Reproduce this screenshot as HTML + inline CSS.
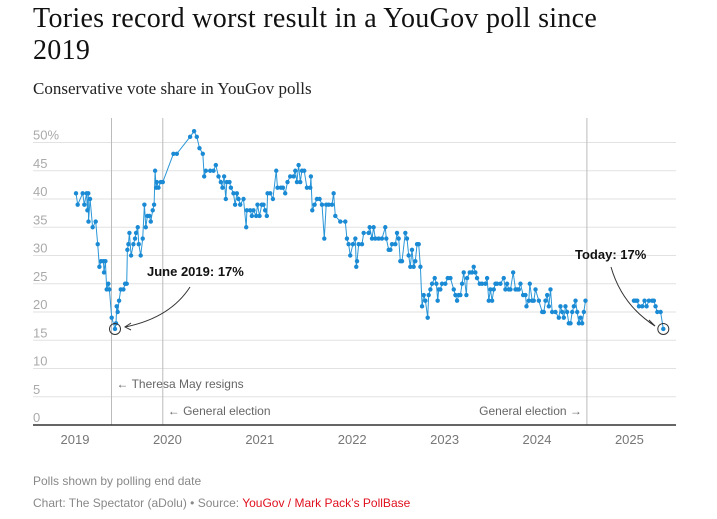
<!DOCTYPE html>
<html><head><meta charset="utf-8"><style>
body{margin:0;background:#fff;width:717px;height:519px;overflow:hidden;font-family:"Liberation Sans",sans-serif}
h1{position:absolute;left:33px;top:3px;margin:0;font-family:"Liberation Serif",serif;font-weight:normal;font-size:28px;line-height:32px;color:#111;letter-spacing:0.3px;white-space:nowrap}
.sub{position:absolute;left:33px;top:79px;font-family:"Liberation Serif",serif;font-size:17px;color:#222}
.foot{position:absolute;left:33px;font-size:12px;color:#888}
svg{position:absolute;left:0;top:0}
</style></head><body>
<h1>Tories record worst result in a YouGov poll since<br>2019</h1>
<div class="sub">Conservative vote share in YouGov polls</div>
<div class="foot" style="top:474px">Polls shown by polling end date</div>
<div class="foot" style="top:496px">Chart: The Spectator (aDolu) • Source: <span style="color:#e0101e">YouGov / Mark Pack’s PollBase</span></div>
<svg id="c" width="717" height="519"></svg>
<script>
const yTicks=[0,5,10,15,20,25,30,35,40,45,50];
const xYears=[2019,2020,2021,2022,2023,2024,2025];
const dates=[2019.011,2019.029,2019.083,2019.101,2019.126,2019.134,2019.144,2019.146,2019.163,2019.191,
2019.224,2019.246,2019.264,2019.282,2019.307,2019.314,2019.329,2019.343,2019.361,2019.372,
2019.397,2019.433,2019.444,2019.451,2019.462,2019.477,2019.495,2019.524,2019.542,2019.560,
2019.567,2019.578,2019.589,2019.607,2019.632,2019.650,2019.661,2019.679,2019.690,2019.711,
2019.733,2019.751,2019.766,2019.784,2019.805,2019.820,2019.841,2019.856,2019.867,2019.878,
2019.885,2019.903,2019.928,2019.950,2020.065,2020.102,2020.246,2020.289,2020.318,2020.347,
2020.383,2020.398,2020.416,2020.463,2020.499,2020.524,2020.553,2020.578,2020.596,2020.614,
2020.632,2020.643,2020.672,2020.687,2020.715,2020.733,2020.752,2020.770,2020.788,2020.824,
2020.853,2020.860,2020.896,2020.914,2020.932,2020.961,2020.975,2020.997,2021.022,2021.040,
2021.058,2021.076,
2021.084,2021.113,2021.142,2021.178,2021.192,2021.228,2021.250,2021.275,2021.300,2021.329,
2021.366,2021.384,2021.402,2021.420,2021.438,2021.456,2021.481,2021.510,2021.546,2021.553,
2021.568,2021.593,2021.618,2021.647,2021.673,2021.698,2021.719,2021.745,2021.781,2021.799,2021.817,
2021.871,2021.925,2021.943,2021.961,2021.979,2022.008,2022.034,2022.044,2022.052,2022.070,
2022.106,2022.124,2022.178,2022.189,2022.214,2022.232,2022.250,2022.286,2022.322,2022.358,
2022.369,2022.395,2022.413,2022.431,2022.467,2022.485,2022.503,2022.521,2022.539,2022.575,
2022.593,2022.611,2022.629,2022.647,2022.665,2022.683,2022.702,2022.720,2022.738,2022.756,
2022.774,2022.792,2022.817,2022.828,2022.846,2022.864,2022.893,2022.911,2022.925,2022.936,
2022.954,2022.972,2023.008,2023.034,2023.063,2023.099,2023.117,2023.135,2023.153,2023.171,
2023.189,2023.207,2023.236,2023.243,2023.272,2023.297,2023.315,2023.333,2023.351,2023.380,
2023.406,2023.442,2023.460,2023.478,2023.496,2023.514,2023.532,2023.550,2023.568,2023.604,
2023.640,2023.658,2023.676,2023.695,2023.713,2023.742,2023.767,2023.785,2023.803,2023.821,
2023.850,2023.875,2023.886,2023.911,2023.922,2023.948,2023.965,2023.984,2024.020,2024.056,
2024.074,2024.092,2024.110,2024.128,2024.146,2024.164,2024.200,2024.236,2024.254,2024.272,
2024.290,2024.308,2024.326,2024.344,2024.363,2024.381,2024.399,2024.417,2024.435,2024.453,
2024.471,2024.489,2024.507,2024.525,
2025.049,2025.067,2025.085,2025.103,2025.139,2025.164,2025.186,2025.211,2025.247,2025.265,2025.283,2025.302,2025.338,2025.367];
const values=[41,39,41,39,41,38,41,36,40,35,
36,32,28,29,29,27,29,24,25,24,
19,17,18,21,20,22,24,24,25,25,
31,32,34,30,32,33,34,35,32,30,
33,39,35,37,37,36,38,39,45,42,
43,42,43,43,48,48,51,52,51,49,
48,44,45,45,45,46,44,43,42,44,
40,43,43,42,41,39,41,40,39,40,
35,38,38,37,38,37,39,37,39,39,
38,37,
41,41,40,45,42,42,42,41,43,44,
44,45,43,46,43,45,45,42,42,44,
38,39,40,40,39,33,39,39,39,41,37,
36,36,33,32,30,32,33,28,29,32,
32,34,34,35,33,35,33,33,33,35,
33,31,31,32,32,34,33,29,29,34,
33,30,28,31,28,29,32,32,28,21,
23,22,19,23,24,25,26,25,22,24,
24,25,25,26,26,24,23,22,23,23,
25,27,23,26,27,27,28,27,26,25,
25,25,26,22,24,22,24,25,25,25,
26,24,25,24,24,27,24,24,24,25,
23,23,21,22,25,22,22,24,22,20,
20,22,23,21,24,20,20,19,21,20,
19,21,20,18,18,20,21,22,20,18,
19,18,20,22,
22,22,22,21,21,22,21,22,22,22,21,20,20,17];
const S='http://www.w3.org/2000/svg',svg=document.getElementById('c');
const X0=33,X1=676,Y0=425;
const x=d=>75+(d-2019)*92.4, y=v=>Y0-5.65*v;
function mk(t,a,p){const e=document.createElementNS(S,t);for(const k in a)e.setAttribute(k,a[k]);(p||svg).appendChild(e);return e;}
yTicks.forEach(v=>{
 if(v>0){const g=mk('line',{x1:X0,x2:X1,y1:y(v),y2:y(v),stroke:'#e2e2e2'});
 
 }
 const t=mk('text',{x:X0,y:y(v)-3,'font-size':13,fill:'#aaa','font-family':'Liberation Sans, sans-serif'});t.textContent=v+(v===50?'%':'');
 
 
});
const events=[[2019.395,'← Theresa May resigns',388,'start'],[2019.95,'← General election',415,'start'],[2024.54,'General election →',415,'end']];
events.forEach(e=>{const l=mk('line',{x1:x(e[0]),x2:x(e[0]),y1:118,y2:Y0,stroke:'#bbb'});
 
 
 const t=mk('text',{x:x(e[0])+(e[3]==='start'?5:-5),y:e[2],'font-size':12,fill:'#666','text-anchor':e[3]});t.textContent=e[1];
 
 });
const ax=mk('line',{x1:X0,x2:X1,y1:Y0,y2:Y0,stroke:'#333','stroke-width':1.5});


xYears.forEach(yr=>{const t=mk('text',{x:x(yr),y:444,'font-size':13,fill:'#777','text-anchor':'middle'});t.textContent=yr;
 
 });
function seg(a,b,name){let d='';for(let i=a;i<b;i++)d+=(i===a?'M':'L')+x(dates[i]).toFixed(1)+','+y(values[i]).toFixed(1);
 const p=mk('path',{d:d,fill:'none',stroke:'#2a96d8','stroke-width':1});
 
 }
const brk=dates.findIndex(d=>d>2025);
seg(0,brk,'series-line');seg(brk,dates.length,'series-line-2025');
dates.forEach((d,i)=>{const c=mk('circle',{cx:x(d),cy:y(values[i]),r:2.2,fill:'#1a8ad4'});
 
 });
const lowI=values.indexOf(17),lastI=values.length-1;
[[lowI,'June 2019: 17%',147,276,'M190,287 Q170,318 125,327',1],[lastI,'Today: 17%',575,259,'M611,267 Q622,305 655,326',-1]].forEach(a=>{
 const c=mk('circle',{cx:x(dates[a[0]]),cy:y(values[a[0]]),r:5.5,fill:'none',stroke:'#333'});
 
 
 const t=mk('text',{x:a[2],y:a[3],'font-size':13,'font-weight':'bold',fill:'#111'});t.textContent=a[1];
 
 
 const p=mk('path',{d:a[4],fill:'none',stroke:'#333'});
 
 
 const m=a[4].match(/(\d+),(\d+)$/),ex=+m[1],ey=+m[2],dir=a[5];
 const h=mk('path',{d:`M${ex+6*dir},${ey-4} L${ex},${ey} L${ex+6*dir},${ey+(dir>0?3:-6)}`,fill:'none',stroke:'#333'});
 
 
});
</script>
</body></html>
